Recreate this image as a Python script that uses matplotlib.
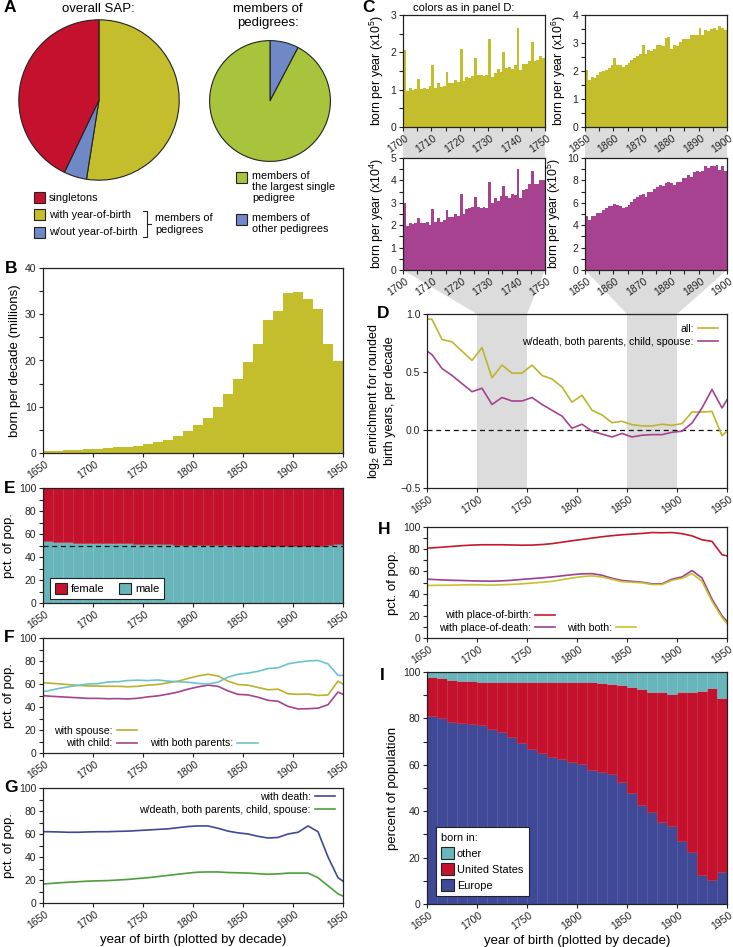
import matplotlib
matplotlib.use("Agg")
import matplotlib.pyplot as plt
import matplotlib.transforms as mtransforms
from matplotlib.patches import Patch, Rectangle, Polygon
from matplotlib.lines import Line2D
from matplotlib.ticker import MultipleLocator

plt.rcParams['font.family'] = ['Liberation Sans', 'DejaVu Sans']
plt.rcParams['mathtext.fontset'] = 'custom'
plt.rcParams['mathtext.rm'] = 'Liberation Sans'
plt.rcParams['mathtext.it'] = 'Liberation Sans:italic'

W, H = 733, 947

# colours
RED = '#C4122E'
OLIVE = '#C4BD2C'
BLUE = '#6F89C6'
GREEN = '#A7C43C'
MAGENTA = '#A6428F'
TEAL = '#68B6BB'
NAVY = '#3F4997'
GREY = '#DCDCDC'

# ---- panel A ----
sap_labels = ['singletons', 'with year-of-birth', 'w/out year-of-birth']
sap_share = [42.9, 52.5, 4.6]
ped_labels = ['members of\nthe largest single\npedigree', 'members of\nother pedigrees']
ped_share = [92.3, 7.7]

# ---- decade bars (left edge of decade) ----
decades = list(range(1650, 1950, 10))
born_millions = [0.4, 0.5, 0.6, 0.7, 0.8, 0.9, 1.0, 1.2, 1.4, 1.6,
                 1.9, 2.3, 2.9, 3.7, 4.8, 6.1, 7.5, 9.9, 12.7, 16.1,
                 19.6, 23.6, 28.8, 30.8, 34.6, 34.9, 33.4, 31.1, 23.6, 19.9]
male_pct = [53.5, 53.0, 52.8, 52.5, 52.3, 52.0, 52.0, 51.8, 51.8, 51.6,
            51.5, 51.3, 51.0, 50.8, 50.6, 50.5, 50.3, 50.2, 50.1, 49.9,
            49.8, 49.7, 49.6, 49.5, 49.5, 49.4, 49.6, 50.0, 50.5, 51.0]
europe_pct = [81.0, 80.2, 78.5, 78.2, 77.8, 77.1, 75.6, 74.2, 72.0, 69.6,
              67.0, 64.9, 63.5, 62.7, 61.3, 60.2, 57.7, 57.0, 55.9, 52.4,
              47.7, 42.7, 39.8, 35.5, 33.7, 27.2, 22.3, 12.6, 10.5, 13.8]
other_pct = [2.1, 2.6, 3.6, 3.7, 3.8, 4.1, 4.3, 4.5, 4.5, 4.5,
             4.5, 4.4, 4.2, 4.2, 4.3, 4.4, 4.4, 4.7, 5.2, 5.5,
             6.4, 7.4, 8.6, 8.6, 9.5, 8.6, 8.7, 8.4, 7.0, 11.2]

# ---- line series (decade mid-points plus the two ends) ----
line_years = [1650] + list(range(1655, 1950, 10)) + [1950]
enrich_all = [0.957, 0.954, 0.78, 0.76, 0.68, 0.60, 0.71, 0.45, 0.56, 0.49,
              0.49, 0.56, 0.47, 0.44, 0.37, 0.24, 0.30, 0.17, 0.13, 0.063,
              0.075, 0.046, 0.035, 0.035, 0.05, 0.04, 0.055, 0.155, 0.155, 0.16,
              -0.05, -0.01]
enrich_full = [0.68, 0.65, 0.53, 0.47, 0.40, 0.33, 0.36, 0.22, 0.28, 0.25,
               0.25, 0.28, 0.22, 0.17, 0.12, 0.015, 0.05, -0.01, -0.035, -0.06,
               -0.03, -0.06, -0.045, -0.04, -0.04, -0.02, -0.01, 0.06, 0.19, 0.35,
               0.19, 0.26]
with_spouse = [61.0, 60.8, 60.2, 59.5, 58.8, 58.3, 58.2, 58.0, 58.0, 57.6,
               58.0, 59.0, 59.6, 61.0, 62.5, 64.8, 67.0, 68.5, 67.0, 62.5,
               59.5, 59.0, 57.0, 55.0, 55.5, 51.5, 51.0, 51.3, 50.0, 50.5,
               62.5, 60.0]
with_child = [50.0, 49.5, 49.0, 48.5, 48.0, 47.5, 47.5, 47.2, 47.3, 47.0,
              47.6, 48.8, 49.7, 51.2, 53.0, 55.5, 57.5, 59.0, 58.0, 54.0,
              51.0, 50.5, 48.5, 45.8, 45.0, 40.5, 38.3, 38.5, 39.0, 42.0,
              53.0, 51.0]
with_parents = [53.5, 54.0, 56.0, 57.5, 58.8, 60.0, 60.3, 61.8, 62.0, 63.0,
                63.3, 63.0, 63.5, 62.5, 62.0, 61.5, 60.5, 60.0, 61.5, 66.0,
                68.5, 69.5, 71.0, 73.5, 74.0, 77.5, 79.0, 80.0, 80.5, 77.5,
                67.5, 67.5]
with_death = [62.0, 62.0, 61.8, 61.5, 61.5, 61.8, 62.0, 62.0, 62.3, 62.5,
              63.0, 63.5, 64.0, 64.5, 65.5, 66.5, 67.0, 67.0, 65.0, 62.5,
              61.0, 60.0, 58.0, 56.5, 57.0, 60.0, 61.5, 67.0, 62.0, 40.0,
              22.0, 19.0]
with_all_rel = [16.5, 16.8, 17.5, 18.0, 18.5, 19.0, 19.3, 19.5, 20.0, 20.5,
                21.3, 22.0, 23.0, 24.0, 25.0, 26.0, 26.8, 27.0, 27.0, 26.5,
                26.3, 26.0, 25.5, 25.0, 25.3, 26.0, 26.0, 26.0, 22.0, 15.0,
                8.0, 6.0]
place_birth = [81.0, 81.2, 81.8, 82.5, 83.2, 83.7, 84.0, 84.0, 84.0, 83.8,
               83.6, 83.7, 84.2, 85.0, 86.3, 87.6, 88.8, 90.0, 91.2, 92.2,
               93.0, 93.6, 94.2, 95.0, 94.8, 95.0, 94.0, 92.0, 88.5, 87.0,
               75.0, 74.0]
place_death = [53.0, 52.8, 52.3, 52.0, 51.8, 51.5, 51.3, 51.2, 51.5, 52.0,
               52.8, 53.5, 54.2, 55.0, 56.0, 57.0, 57.8, 58.0, 56.5, 53.8,
               51.8, 51.0, 50.3, 48.8, 48.8, 53.0, 55.0, 60.8, 54.0, 35.0,
               20.0, 15.0]
place_both = [47.3, 47.4, 47.5, 47.6, 47.8, 48.0, 47.8, 47.6, 48.0, 48.3,
              48.8, 49.5, 50.2, 51.0, 52.5, 54.0, 55.3, 56.0, 55.0, 52.8,
              50.8, 50.2, 49.7, 48.2, 48.2, 52.0, 53.8, 58.0, 51.0, 33.0,
              18.5, 13.0]

# ---- panel C: born per year ----
years_c1 = list(range(1700, 1750))
years_c2 = list(range(1850, 1900))
born_1700s_all = [2.05, 0.97, 1.05, 1.00, 1.02, 1.28, 1.03, 1.04, 1.03, 1.09,
                  1.67, 1.05, 1.17, 1.08, 1.10, 1.48, 1.18, 1.17, 1.27, 1.20,
                  2.10, 1.22, 1.34, 1.32, 1.37, 1.84, 1.38, 1.39, 1.37, 1.40,
                  2.37, 1.33, 1.45, 1.56, 1.48, 2.02, 1.58, 1.60, 1.56, 1.67,
                  2.65, 1.53, 1.70, 1.70, 1.78, 2.29, 1.78, 1.80, 1.90, 1.84]
born_1850s_all = [2.03, 1.67, 1.78, 1.76, 1.85, 1.97, 2.01, 2.05, 2.12, 2.20,
                  2.48, 2.20, 2.22, 2.15, 2.20, 2.30, 2.38, 2.45, 2.55, 2.60,
                  2.92, 2.60, 2.75, 2.72, 2.80, 2.93, 2.92, 2.90, 3.18, 3.20,
                  2.80, 2.92, 2.90, 3.05, 3.13, 3.14, 3.13, 3.27, 3.28, 3.30,
                  3.55, 3.30, 3.45, 3.42, 3.50, 3.52, 3.45, 3.60, 3.55, 3.48]
born_1700s_full = [3.00, 1.95, 2.12, 2.05, 2.08, 2.30, 2.08, 2.08, 2.15, 2.00,
                   2.72, 2.15, 2.33, 2.15, 2.25, 2.68, 2.35, 2.35, 2.52, 2.40,
                   3.38, 2.50, 2.73, 2.75, 2.80, 3.28, 2.80, 2.78, 2.80, 2.75,
                   3.95, 2.98, 3.22, 3.10, 3.30, 3.77, 3.30, 3.22, 3.38, 3.35,
                   4.52, 3.22, 3.58, 3.62, 3.85, 4.40, 3.82, 3.85, 4.00, 4.02]
born_1850s_full = [4.8, 4.5, 4.8, 4.8, 5.1, 5.1, 5.4, 5.5, 5.7, 5.75,
                   5.85, 5.8, 5.7, 5.55, 5.6, 5.8, 6.1, 6.35, 6.5, 6.7,
                   6.8, 6.5, 7.0, 7.0, 7.2, 7.45, 7.6, 7.5, 7.8, 7.85,
                   7.75, 7.6, 7.85, 7.9, 8.25, 8.2, 8.45, 8.3, 8.75, 8.8,
                   8.75, 8.8, 9.3, 9.1, 9.25, 9.25, 9.4, 8.9, 9.3, 8.8]

fig = plt.figure(figsize=(W / 100, H / 100), dpi=100)
# x tick labels sit a little left of their tick in the original
label_shift = mtransforms.ScaledTranslation(-5 / 100, 0, fig.dpi_scale_trans)


def add_ax(x0, y0, x1, y1):
    return fig.add_axes([x0 / W, 1 - y1 / H, (x1 - x0) / W, (y1 - y0) / H])


def fxy(x, y):
    return x / W, 1 - y / H


def style_ax(ax, size=7.5):
    for s in ax.spines.values():
        s.set_linewidth(0.9)
        s.set_color('#222222')
    ax.tick_params(which='both', direction='out', width=0.8, length=3.2,
                   colors='#222222', labelsize=size, pad=1.5)
    ax.tick_params(axis='x', labelrotation=35)


def year_axis(ax, lo=1650, hi=1950, step=50):
    ax.set_xlim(lo, hi)
    ax.set_xticks(range(lo, hi + 1, step))
    for lab in ax.get_xticklabels():
        lab.set_transform(lab.get_transform() + label_shift)


def pct_axis(ax, label='pct. of pop.'):
    ax.set_ylim(0, 100)
    ax.yaxis.set_major_locator(MultipleLocator(20))
    ax.yaxis.set_minor_locator(MultipleLocator(10))
    ax.set_ylabel(label, fontsize=9.5, labelpad=3)


def panel_letter(x, y, s):
    fig.text(*fxy(x, y), s, fontsize=12.5, fontweight='bold', va='center', ha='left')


# ---------------- Panel A ----------------
ax_p1 = add_ax(18, 19, 180, 181)
ax_p1.pie([sap_share[1], sap_share[2], sap_share[0]], colors=[OLIVE, BLUE, RED],
          startangle=90, counterclock=False,
          wedgeprops=dict(edgecolor='#222222', linewidth=0.8))
ax_p1.set_xlim(-1.01, 1.01)
ax_p1.set_ylim(-1.01, 1.01)
ax_p2 = add_ax(209, 40, 331, 162)
ax_p2.pie([ped_share[1], ped_share[0]], colors=[BLUE, GREEN],
          startangle=90, counterclock=False,
          wedgeprops=dict(edgecolor='#222222', linewidth=0.8))
ax_p2.set_xlim(-1.01, 1.01)
ax_p2.set_ylim(-1.01, 1.01)

fig.text(*fxy(98, 9), 'overall SAP:', fontsize=9.5, ha='center', va='center')
fig.text(*fxy(268, 16), 'members of\npedigrees:', fontsize=9.5, ha='center', va='center',
         linespacing=1.3)

# legend of panel A, drawn as boxes + text
for i, (lab, col) in enumerate(zip(sap_labels, [RED, OLIVE, BLUE])):
    yc = 198 + 17 * i
    fig.patches.append(Rectangle(fxy(34, yc + 5.5), 11 / W, 11 / H, facecolor=col,
                                 edgecolor='#222222', linewidth=0.8,
                                 transform=fig.transFigure))
    fig.text(*fxy(49, yc), lab, fontsize=7.8, va='center')
bracket = [(143, 211), (147, 211), (147, 237), (143, 237)]
fig.add_artist(Line2D([fxy(*p)[0] for p in bracket], [fxy(*p)[1] for p in bracket],
                      color='#222222', lw=0.8, transform=fig.transFigure))
fig.add_artist(Line2D([fxy(147, 224)[0], fxy(151, 224)[0]], [fxy(147, 224)[1]] * 2,
                      color='#222222', lw=0.8, transform=fig.transFigure))
fig.text(*fxy(155, 224), 'members of\npedigrees', fontsize=7.8, va='center', linespacing=1.15)

for lab, col, yc in zip(ped_labels, [GREEN, BLUE], [177, 219]):
    fig.patches.append(Rectangle(fxy(236, yc + 5.5), 11 / W, 11 / H, facecolor=col,
                                 edgecolor='#222222', linewidth=0.8,
                                 transform=fig.transFigure))
    fig.text(*fxy(252, yc - 6), lab, fontsize=7.8, va='top', linespacing=1.15)
panel_letter(4, 8, 'A')

# ---------------- Panel B ----------------
ax_b = add_ax(43, 268, 343, 453)
ax_b.bar(decades, born_millions, width=10, align='edge', color=OLIVE, linewidth=0)
style_ax(ax_b)
year_axis(ax_b)
ax_b.set_ylim(0, 40)
ax_b.yaxis.set_major_locator(MultipleLocator(10))
ax_b.yaxis.set_minor_locator(MultipleLocator(5))
ax_b.set_ylabel('born per decade (millions)', fontsize=9.5, labelpad=3)
panel_letter(5, 268, 'B')

# ---------------- Panel E ----------------
female_pct = [100 - m for m in male_pct]
ax_e = add_ax(43, 488, 343, 603)
ax_e.bar(decades, male_pct, width=10, align='edge', color=TEAL, edgecolor='#7cc0c4', linewidth=0.4)
ax_e.bar(decades, female_pct, bottom=male_pct, width=10, align='edge', color=RED,
         edgecolor='#cc2a3a', linewidth=0.4)
ax_e.axhline(50, color='#111111', lw=0.9, ls=(0, (4, 3)))
style_ax(ax_e)
year_axis(ax_e)
pct_axis(ax_e)
ax_e.legend([Patch(facecolor=RED, edgecolor='#222222', linewidth=0.8),
             Patch(facecolor=TEAL, edgecolor='#222222', linewidth=0.8)],
            ['female', 'male'], ncol=2, loc='lower left', bbox_to_anchor=(0.023, 0.035),
            borderaxespad=0, frameon=True, fancybox=False, edgecolor='#222222',
            framealpha=1, fontsize=8, handlelength=1.1, handleheight=1.1,
            handletextpad=0.35, columnspacing=1.3, borderpad=0.45).get_frame().set_linewidth(0.8)
panel_letter(4, 488, 'E')

# ---------------- Panel F ----------------
ax_f = add_ax(43, 638, 343, 753)
ax_f.plot(line_years, with_spouse, color='#B9B22B', lw=1.2, label='with spouse:')
ax_f.plot(line_years, with_child, color=MAGENTA, lw=1.2, label='with child:')
ax_f.plot(line_years, with_parents, color='#6EC3C8', lw=1.2, label='with both parents:')
style_ax(ax_f)
year_axis(ax_f)
pct_axis(ax_f)
h, l = ax_f.get_legend_handles_labels()
leg_common = dict(frameon=False, fontsize=7.6, handlelength=1.9, handletextpad=0.4,
                  borderaxespad=0, borderpad=0, labelspacing=0.25)
leg1 = ax_f.legend(h[:2], l[:2], loc='lower right', bbox_to_anchor=(0.313, 0.04),
                   markerfirst=False, **leg_common)
ax_f.add_artist(leg1)
ax_f.legend(h[2:], l[2:], loc='lower left', bbox_to_anchor=(0.357, 0.04),
            markerfirst=False, **leg_common)
panel_letter(4, 638, 'F')

# ---------------- Panel G ----------------
ax_g = add_ax(43, 788, 343, 903)
ax_g.plot(line_years, with_death, color=NAVY, lw=1.2, label='with death:')
ax_g.plot(line_years, with_all_rel, color='#4E9E3E', lw=1.2,
          label='w/death, both parents, child, spouse:')
style_ax(ax_g)
year_axis(ax_g)
pct_axis(ax_g)
ax_g.set_xlabel('year of birth (plotted by decade)', fontsize=9.5, labelpad=2)
ax_g.legend(loc='upper right', bbox_to_anchor=(0.973, 0.965), markerfirst=False, **leg_common)
panel_letter(4, 788, 'G')

# ---------------- Panel C ----------------
c_specs = [
    ((403, 15, 545, 127), years_c1, born_1700s_all, OLIVE, 3, 1, 0.5, '5'),
    ((585, 15, 727, 127), years_c2, born_1850s_all, OLIVE, 4, 1, 0.5, '6'),
    ((403, 158, 545, 270), years_c1, born_1700s_full, MAGENTA, 5, 1, 0.5, '4'),
    ((585, 158, 727, 270), years_c2, born_1850s_full, MAGENTA, 10, 2, 1, '5'),
]
c_axes = []
for box, yrs, vals, col, ymax, maj, mnr, expo in c_specs:
    ax = add_ax(*box)
    ax.bar(yrs, vals, width=1, align='edge', color=col, linewidth=0)
    style_ax(ax)
    year_axis(ax, yrs[0], yrs[0] + 50, 10)
    ax.xaxis.set_minor_locator(MultipleLocator(5))
    ax.set_ylim(0, ymax)
    ax.yaxis.set_major_locator(MultipleLocator(maj))
    ax.yaxis.set_minor_locator(MultipleLocator(mnr))
    ax.set_ylabel('born per year (x10$^{\\mathregular{%s}}$)' % expo, fontsize=8.8, labelpad=3)
    c_axes.append(ax)
panel_letter(362, 8, 'C')
fig.text(*fxy(413, 8), 'colors as in panel D:', fontsize=8, va='center')

# ---------------- Panel D ----------------
ax_d = add_ax(427, 314, 727, 488)
ax_d.axvspan(1700, 1750, color=GREY, lw=0)
ax_d.axvspan(1850, 1900, color=GREY, lw=0)
ax_d.axhline(0, color='#111111', lw=0.9, ls=(0, (4, 3)))
ax_d.plot(line_years, enrich_all, color='#BDB62C', lw=1.2, label='all:')
ax_d.plot(line_years, enrich_full, color=MAGENTA, lw=1.2,
          label='w/death, both parents, child, spouse:')
style_ax(ax_d)
year_axis(ax_d)
ax_d.set_ylim(-0.5, 1.0)
ax_d.set_yticks([-0.5, 0.0, 0.5, 1.0])
ax_d.set_ylabel('log$_{\\mathregular{2}}$ enrichment for rounded\nbirth years, per decade',
                fontsize=9, labelpad=3)
ax_d.legend(loc='upper right', bbox_to_anchor=(0.97, 0.943), markerfirst=False, **leg_common)
panel_letter(377, 314, 'D')

# grey connectors from panel C down to the shaded spans of panel D
inv = fig.transFigure.inverted()
for top, bot, (lo, hi) in [(c_axes[0], c_axes[2], (1700, 1750)),
                           (c_axes[1], c_axes[3], (1850, 1900))]:
    pt, pb = top.get_position(), bot.get_position()
    fig.patches.append(Rectangle((pt.x0, pb.y1), pt.x1 - pt.x0, pt.y0 - pb.y1,
                                 facecolor=GREY, linewidth=0, transform=fig.transFigure,
                                 zorder=-1))
    d_lo = inv.transform(ax_d.transData.transform((lo, 1.0)))
    d_hi = inv.transform(ax_d.transData.transform((hi, 1.0)))
    fig.patches.append(Polygon([(pb.x0, pb.y0), (pb.x1, pb.y0), tuple(d_hi), tuple(d_lo)],
                               closed=True, facecolor=GREY, linewidth=0,
                               transform=fig.transFigure, zorder=-1))

# ---------------- Panel H ----------------
ax_h = add_ax(427, 527, 727, 638)
ax_h.plot(line_years, place_birth, color='#C21A2C', lw=1.2, label='with place-of-birth:')
ax_h.plot(line_years, place_death, color='#9A3F95', lw=1.2, label='with place-of-death:')
ax_h.plot(line_years, place_both, color='#C9C12B', lw=1.2, label='with both:')
style_ax(ax_h)
year_axis(ax_h)
pct_axis(ax_h)
h, l = ax_h.get_legend_handles_labels()
leg1 = ax_h.legend(h[:2], l[:2], loc='lower right', bbox_to_anchor=(0.427, 0.045),
                   markerfirst=False, **leg_common)
ax_h.add_artist(leg1)
ax_h.legend(h[2:], l[2:], loc='lower left', bbox_to_anchor=(0.467, 0.045),
            markerfirst=False, **leg_common)
panel_letter(378, 529, 'H')

# ---------------- Panel I ----------------
usa_pct = [100 - e - o for e, o in zip(europe_pct, other_pct)]
usa_top = [e + u for e, u in zip(europe_pct, usa_pct)]
ax_i = add_ax(427, 672, 727, 904)
ax_i.bar(decades, europe_pct, width=10, align='edge', color=NAVY, edgecolor='#4f59a3', linewidth=0.4)
ax_i.bar(decades, usa_pct, bottom=europe_pct, width=10, align='edge', color=RED,
         edgecolor='#cc2a3a', linewidth=0.4)
ax_i.bar(decades, other_pct, bottom=usa_top, width=10, align='edge', color=TEAL,
         edgecolor='#7cc0c4', linewidth=0.4)
style_ax(ax_i)
year_axis(ax_i)
pct_axis(ax_i, 'percent of population')
ax_i.set_xlabel('year of birth (plotted by decade)', fontsize=9.5, labelpad=2)
leg = ax_i.legend([Patch(facecolor=TEAL, edgecolor='#222222', linewidth=0.8),
                   Patch(facecolor=RED, edgecolor='#222222', linewidth=0.8),
                   Patch(facecolor=NAVY, edgecolor='#222222', linewidth=0.8)],
                  ['other', 'United States', 'Europe'], title='born in:', alignment='left',
                  loc='lower left', bbox_to_anchor=(0.03, 0.034), borderaxespad=0,
                  frameon=True, fancybox=False, edgecolor='#222222', framealpha=1,
                  fontsize=7.9, title_fontsize=7.9, handlelength=1.1, handleheight=1.25,
                  handletextpad=0.3, labelspacing=0.4, borderpad=0.5)
leg.get_frame().set_linewidth(0.8)
panel_letter(380, 675, 'I')

fig.savefig('out.png', dpi=100)
